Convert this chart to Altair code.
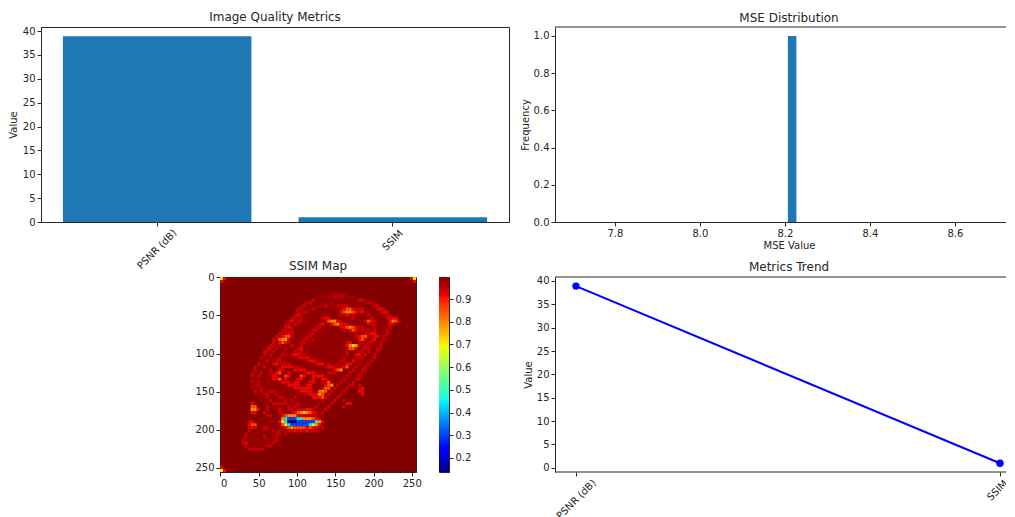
import altair as alt
import pandas as pd

METRICS = ["PSNR (dB)", "SSIM"]
METRIC_VALUES = [38.9, 0.97]
MSE_BIN = [8.207, 8.227]
MSE_FREQ = [1.0]

SSIM_MIN, SSIM_MAX = 0.138, 0.997
BACKGROUND_SSIM = 0.995
GLOW_SSIM = 0.982
# code -> SSIM level
LEVELS = {"1": 0.97, "2": 0.94, "3": 0.915, "4": 0.875, "5": 0.81, "6": 0.71, "7": 0.45, "8": 0.27, "9": 0.15}
CELL = 4  # image pixels per map cell
# (first row, last row, first column, last column): faint haze over the object
GLOW = [(7,7,30,44),(8,9,28,47),(10,11,26,51),(12,13,24,54),(14,15,23,56),(16,17,21,55),(18,19,20,54),
        (20,21,18,53),(22,23,16,52),(24,25,15,51),(26,27,14,50),(28,29,12,48),(30,31,11,47),(32,33,10,45),
        (34,35,10,43),(36,37,11,41),(38,39,12,39),(40,41,14,37),(42,43,16,35),(44,45,19,33),(46,50,12,33),(51,55,9,19)]
# (row, column, codes): map cells that differ from the background
RUNS = [
 (0,0,"6"),(0,1,"3"),(1,0,"3"),(0,63,"6"),(0,62,"3"),(1,63,"3"),(63,0,"6"),(63,1,"3"),(62,0,"3"),
 (5,36,"111111"),
 (6,31,"1111112221111"),
 (7,29,"12"),(7,44,"1221"),
 (8,27,"122"),(8,34,"111"),(8,47,"1221"),
 (9,26,"12"),(9,31,"1112111"),(9,38,"2222"),(9,49,"122"),
 (10,25,"22"),(10,29,"12"),(10,39,"234432"),(10,45,"22"),(10,51,"232"),
 (11,25,"2"),(11,27,"22"),(11,39,"345543"),(11,45,"231"),(11,52,"233"),
 (12,24,"23"),(12,26,"2"),(12,39,"22322"),(12,48,"21"),(12,54,"22"),
 (13,23,"22"),(13,26,"21"),(13,33,"233"),(13,42,"12"),(13,49,"2"),(13,54,"2333"),
 (14,22,"23"),(14,25,"22"),(14,34,"2455"),(14,38,"32"),(14,47,"243"),(14,50,"2"),(14,55,"3542"),
 (15,21,"22"),(15,24,"22"),(15,32,"23"),(15,36,"3453"),(15,40,"32"),(15,48,"22"),(15,50,"2"),(15,55,"321"),
 (16,21,"23"),(16,23,"21"),(16,31,"22"),(16,39,"33"),(16,41,"4543"),(16,45,"22"),(16,50,"2"),(16,55,"2"),
 (17,20,"22"),(17,23,"2"),(17,30,"22"),(17,33,"1"),(17,40,"2"),(17,42,"3432"),(17,46,"222"),(17,50,"2"),(17,54,"2"),
 (18,19,"222"),(18,22,"32"),(18,29,"22"),(18,32,"1"),(18,44,"2"),(18,47,"2233"),(18,54,"21"),
 (19,18,"22"),(19,20,"344"),(19,23,"2"),(19,28,"22"),(19,31,"1"),(19,44,"2344"),(19,48,"2"),(19,50,"33"),(19,53,"2"),
 (20,17,"22"),(20,19,"455"),(20,22,"2"),(20,27,"22"),(20,30,"2"),(20,45,"342"),(20,49,"23"),(20,53,"21"),
 (21,17,"2"),(21,19,"343"),(21,22,"2"),(21,26,"22"),(21,29,"1"),(21,41,"23"),(21,45,"21"),(21,48,"22"),(21,52,"2"),
 (22,16,"22"),(22,19,"2"),(22,22,"12"),(22,26,"2"),(22,29,"1"),(22,41,"3565"),(22,45,"2"),(22,47,"22"),(22,52,"2"),
 (23,15,"22"),(23,18,"2"),(23,21,"2"),(23,25,"23"),(23,28,"1"),(23,41,"2442"),(23,46,"22"),(23,48,"2"),(23,51,"22"),
 (24,14,"22"),(24,17,"2"),(24,20,"1"),(24,24,"222"),(24,28,"1"),(24,41,"2"),(24,45,"22"),(24,48,"2"),(24,51,"2"),
 (25,14,"2"),(25,16,"2"),(25,20,"22"),(25,23,"233"),(25,26,"22"),(25,28,"1"),(25,41,"2"),(25,44,"33"),(25,47,"2"),(25,50,"2"),
 (26,13,"2"),(26,16,"1"),(26,19,"2"),(26,25,"232"),(26,28,"311"),(26,40,"2"),(26,44,"22"),(26,46,"2"),(26,50,"2"),
 (27,13,"1"),(27,15,"2"),(27,18,"22"),(27,28,"2332"),(27,32,"1"),(27,39,"22"),(27,43,"3"),(27,46,"1"),(27,49,"2"),
 (28,12,"2"),(28,15,"1"),(28,17,"232222"),(28,31,"233"),(28,34,"12"),(28,38,"2"),(28,41,"33"),(28,45,"2"),(28,48,"2"),
 (29,11,"2"),(29,14,"2"),(29,20,"3333"),(29,24,"22"),(29,34,"2332"),(29,38,"22"),(29,40,"34"),(29,44,"2"),(29,47,"2"),
 (30,11,"2"),(30,13,"1"),(30,16,"2"),(30,19,"33"),(30,24,"3333"),(30,37,"345"),(30,43,"2"),(30,46,"22"),
 (31,10,"2"),(31,13,"2"),(31,16,"2"),(31,18,"34"),(31,22,"3"),(31,27,"2333"),(31,35,"22"),(31,37,"2"),(31,42,"2"),(31,46,"2"),
 (32,10,"2"),(32,12,"2"),(32,15,"1"),(32,17,"33"),(32,21,"43"),(32,26,"43"),(32,30,"3333"),(32,41,"2"),(32,45,"21"),
 (33,10,"1"),(33,12,"1"),(33,15,"1"),(33,17,"334"),(33,21,"3"),(33,25,"33"),(33,30,"3"),(33,33,"33"),(33,36,"1"),(33,40,"2"),(33,44,"22"),
 (34,10,"2"),(34,12,"2"),(34,15,"1"),(34,20,"333"),(34,24,"33"),(34,29,"33"),(34,33,"22"),(34,35,"4"),(34,39,"2"),(34,43,"2"),
 (35,10,"1"),(35,12,"2"),(35,22,"3333"),(35,28,"33"),(35,34,"345"),(35,38,"2"),(35,42,"22"),(35,45,"2"),
 (36,10,"1"),(36,13,"2"),(36,24,"333"),(36,27,"333"),(36,33,"244"),(36,37,"2"),(36,41,"2"),(36,45,"23"),
 (37,11,"2"),(37,13,"2"),(37,16,"22"),(37,26,"33"),(37,28,"33"),(37,32,"454"),(37,36,"2"),(37,40,"2"),(37,45,"33"),
 (38,11,"1"),(38,14,"22"),(38,18,"2"),(38,28,"2333"),(38,32,"54"),(38,35,"2"),(38,39,"2"),(38,46,"3"),
 (39,12,"1"),(39,15,"2"),(39,19,"22"),(39,24,"2"),(39,30,"3334"),(39,34,"2"),(39,38,"2"),
 (40,13,"1"),(40,16,"2"),(40,21,"2"),(40,23,"2"),(40,33,"2"),(40,37,"2"),(40,40,"2"),
 (41,10,"3"),(41,17,"22"),(41,19,"222"),(41,22,"1"),(41,25,"2"),(41,32,"1"),(41,36,"2"),(41,41,"33"),
 (42,10,"44"),(42,15,"2"),(42,18,"11"),(42,22,"2"),(42,24,"22"),(42,31,"2"),(42,35,"2"),(42,40,"2"),
 (43,10,"553"),(43,15,"2"),(43,19,"2"),(43,22,"22"),(43,25,"2223"),(43,29,"32"),(43,34,"2"),
 (44,10,"33"),(44,14,"2"),(44,19,"22"),(44,23,"23"),(44,25,"45654"),(44,30,"32"),(44,33,"2"),
 (45,11,"1"),(45,15,"22"),(45,20,"345553"),(45,26,"32222"),(45,31,"2"),
 (46,20,"5788877"),(46,27,"55543"),(46,32,"2"),
 (47,9,"23"),(47,16,"11"),(47,19,"367"),(47,22,"9998888"),(47,29,"8875"),(47,33,"3"),
 (48,9,"344"),(48,15,"1"),(48,20,"46"),(48,22,"7888888"),(48,29,"765"),(48,32,"3"),
 (49,9,"232"),(49,14,"22"),(49,21,"34"),(49,23,"544443"),(49,29,"432"),(49,33,"2"),
 (50,9,"2"),(50,14,"1"),(50,17,"2"),(50,19,"2"),(50,22,"2232323"),(50,29,"222"),
 (51,8,"2"),(51,12,"1"),(51,18,"22"),(51,21,"2"),(51,25,"1"),
 (52,8,"2"),(52,11,"1"),(52,14,"2"),(52,18,"2"),
 (53,7,"2"),(53,12,"1"),(53,15,"1"),(53,18,"2"),
 (54,7,"23"),(54,17,"2"),
 (55,8,"2"),(55,15,"22"),
 (56,9,"222"),(56,12,"22"),(56,14,"1"),
]

# matplotlib "jet" as (position, colour)
JET_POS = [0, .11, .125, .35, .375, .64, .66, .89, .91, 1]
JET_COL = ["#00007f", "#0000ff", "#0000ff", "#00e6f7", "#14ffe3", "#eeff0c", "#ffec00", "#ff1400", "#e80000", "#7f0000"]

FONT = "DejaVu Sans"
INK = "#262626"
BLUE = "#1f77b4"
NO_FRAME = alt.ViewConfig(stroke=None)

axis_common = dict(grid=False, labelFontSize=10, titleFontSize=10, labelColor=INK, titleColor=INK,
                   tickColor=INK, domainColor=INK, tickSize=4, titleFontWeight="normal")
rotated = dict(labelAngle=-45, labelAlign="center", labelBaseline="middle",
               labelPadding={"condition": {"test": "datum.label == 'SSIM'", "value": 14}, "value": 23})
trend_label_shift = {"condition": {"test": "datum.label == 'SSIM'", "value": -3}, "value": 0}


def title(t, dx=0, offset=2):
    return alt.TitleParams(t, fontSize=12, fontWeight="normal", font=FONT, color=INK, offset=offset, dx=dx)


W, WR, H = 468, 452, 195
metrics = pd.DataFrame({"metric": METRICS, "value": METRIC_VALUES})


def edge(y_px):
    # spine along the open-ended right-hand panels, which have no right edge
    return alt.Chart(pd.DataFrame({"v": [0]})).mark_rule(color=INK, strokeWidth=1).encode(
        x=alt.value(0), x2=alt.value(WR), y=alt.value(y_px))


bars = alt.Chart(metrics, title=title("Image Quality Metrics"), width=W, height=H).mark_bar(color=BLUE).encode(
    x=alt.X("metric:N", sort=METRICS, title=None,
            scale=alt.Scale(paddingInner=0.2, paddingOuter=0.093), axis=alt.Axis(**axis_common, **rotated)),
    y=alt.Y("value:Q", title="Value", scale=alt.Scale(domain=[0, 40.85], nice=False),
            axis=alt.Axis(values=[0, 5, 10, 15, 20, 25, 30, 35, 40], titlePadding=4, **axis_common)),
)

hist_bar = alt.Chart(pd.DataFrame({"a": [MSE_BIN[0]], "b": [MSE_BIN[1]], "f": MSE_FREQ})).mark_rect(color=BLUE).encode(
    x=alt.X("a:Q", title="MSE Value", scale=alt.Scale(domain=[7.659, 8.7225], nice=False, zero=False),
            axis=alt.Axis(values=[7.8, 8.0, 8.2, 8.4, 8.6], format=".1f", titlePadding=2, titleX=234, **axis_common)),
    x2="b:Q",
    y=alt.Y("f:Q", title="Frequency", scale=alt.Scale(domain=[0, 1.048], nice=False),
            axis=alt.Axis(values=[0, .2, .4, .6, .8, 1.0], format=".1f", titlePadding=3, **axis_common)),
    y2=alt.datum(0),
)
hist = alt.layer(hist_bar, edge(0), title=title("MSE Distribution", dx=8)).properties(width=WR, height=H, view=NO_FRAME)

cells = []
for row, col, codes in RUNS:
    for i, code in enumerate(codes):
        c = col + i
        cells.append({"x0": c * CELL - .5, "x1": c * CELL + CELL - .5,
                      "y0": row * CELL - .5, "y1": row * CELL + CELL - .5, "v": LEVELS[code]})
cells = pd.DataFrame(cells)
full = pd.DataFrame({"x0": [-.5], "x1": [255.5], "y0": [-.5], "y1": [255.5], "v": [BACKGROUND_SSIM]})
glow = pd.DataFrame([{"x0": c0 * CELL - .5, "x1": (c1 + 1) * CELL - .5, "y0": r0 * CELL - .5,
                      "y1": (r1 + 1) * CELL - .5, "v": GLOW_SSIM} for r0, r1, c0, c1 in GLOW])

color_scale = alt.Scale(domain=[SSIM_MIN + p * (SSIM_MAX - SSIM_MIN) for p in JET_POS], range=JET_COL, clamp=True)
img_ticks = [0, 50, 100, 150, 200, 250]


def image_layer(df):
    return alt.Chart(df).mark_rect().encode(
        x=alt.X("x0:Q", title=None, scale=alt.Scale(domain=[-.5, 255.5], nice=False, zero=False),
                axis=alt.Axis(values=img_ticks, **axis_common)),
        x2="x1:Q",
        y=alt.Y("y0:Q", title=None, scale=alt.Scale(domain=[255.5, -.5], nice=False, zero=False),
                axis=alt.Axis(values=img_ticks, **axis_common)),
        y2="y1:Q",
        color=alt.Color("v:Q", scale=color_scale, legend=None),
    )


heat = alt.layer(image_layer(full), image_layer(glow), image_layer(cells), title=title("SSIM Map", offset=-1)).properties(
    width=196, height=195)

gradient = alt.Gradient(gradient="linear", x1=0, x2=0, y1=1, y2=0,
                        stops=[alt.GradientStop(offset=p, color=c) for p, c in zip(JET_POS, JET_COL)])
colorbar = alt.Chart(pd.DataFrame({"lo": [SSIM_MIN], "hi": [SSIM_MAX]}), width=10, height=195).mark_rect(
    color=gradient).encode(
    y=alt.Y("lo:Q", title=None, scale=alt.Scale(domain=[SSIM_MIN, SSIM_MAX], nice=False, zero=False),
            axis=alt.Axis(orient="right", values=[.2, .3, .4, .5, .6, .7, .8, .9], format=".1f", **axis_common)),
    y2="hi:Q",
)

trend_x = alt.X("metric:N", sort=METRICS, title=None, scale=alt.Scale(type="point", range=[21, 445], padding=0),
                axis=alt.Axis(domain=False, labelOffset=trend_label_shift, **axis_common, **rotated))
trend_y = alt.Y("value:Q", title="Value", scale=alt.Scale(domain=[-0.9, 40.85], nice=False, zero=False),
                axis=alt.Axis(values=[0, 5, 10, 15, 20, 25, 30, 35, 40], titlePadding=3, **axis_common))
trend = alt.layer(
    alt.Chart(metrics).mark_line(color="#0000ff", strokeWidth=2).encode(x=trend_x, y=trend_y),
    alt.Chart(metrics).mark_point(color="#0000ff", filled=True, opacity=1, size=55).encode(x=trend_x, y=trend_y),
    edge(0), edge(H),
    title=title("Metrics Trend", dx=8),
).properties(width=WR, height=H, view=NO_FRAME)


def spacer(w):
    return alt.Chart(pd.DataFrame({"v": [0]}), width=w, height=H).mark_point(opacity=0).encode(
        x=alt.value(0)).properties(view=NO_FRAME)


top = alt.hconcat(bars, spacer(46), hist, spacing=0, bounds="flush")
bottom = alt.hconcat(spacer(179), heat, spacer(23), colorbar, spacer(106), trend, spacing=0, bounds="flush")

chart = alt.vconcat(top, bottom, spacing=-13).properties(
    padding={"top": 2, "left": -1, "right": -4, "bottom": 0}, background="white"
).configure(font=FONT).configure_view(stroke=INK, strokeWidth=1)

chart.save("out.html", embed_options={"renderer": "svg", "actions": False})
